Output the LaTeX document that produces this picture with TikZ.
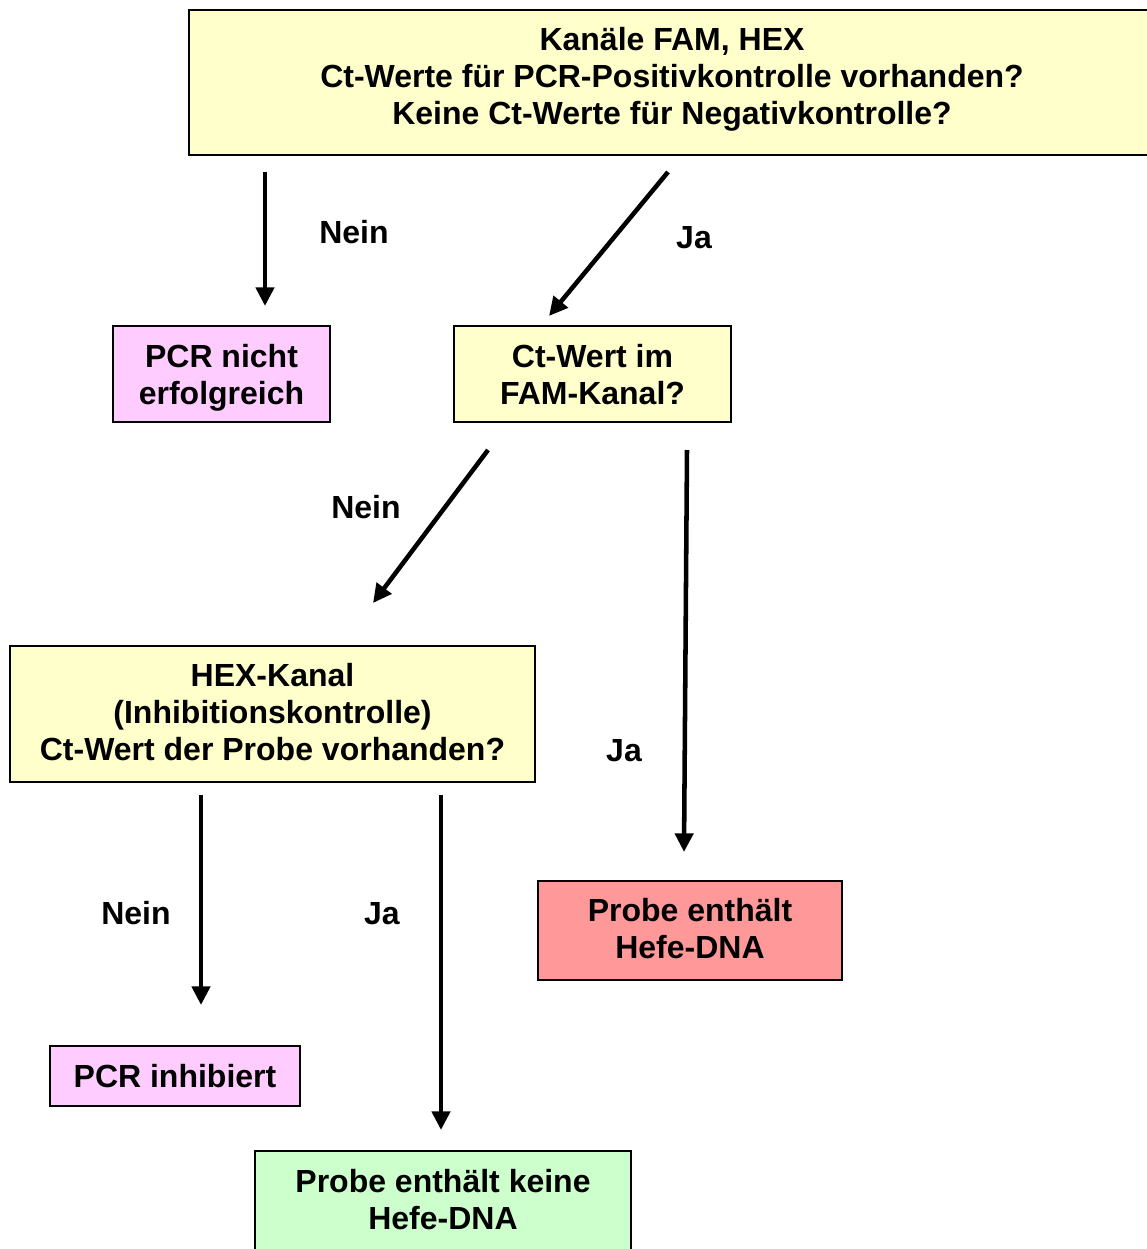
\documentclass[tikz,border=0pt]{standalone}
\usepackage{fontspec}
\setmainfont{Liberation Sans}
\usetikzlibrary{arrows.meta}
\definecolor{ylw}{HTML}{FFFFCC}
\definecolor{pnk}{HTML}{FFCCFF}
\definecolor{red1}{HTML}{FF9999}
\definecolor{grn}{HTML}{CCFFCC}
\tikzset{
  box/.style={draw=black, line width=1.4pt, inner sep=0pt, align=center,
    font=\fontsize{24pt}{27.75pt}\selectfont\bfseries},
  lbl/.style={inner sep=0pt, font=\fontsize{24pt}{27.75pt}\selectfont\bfseries},
  arr/.style={line width=3.4pt, -{Triangle[length=14pt,width=13.5pt]}}
}
\begin{document}
\begin{tikzpicture}[x=0.75pt,y=-0.75pt]
\useasboundingbox[fill=white] (0,0) rectangle (1146,1249);
\node[box, fill=ylw, minimum width=966*0.75pt, minimum height=145*0.75pt,
  label={[lbl, align=center, yshift=2.25pt]center:{Kanäle FAM, HEX\\Ct-Werte für PCR-Positivkontrolle vorhanden?\\Keine Ct-Werte für Negativkontrolle?}}] (top) at (672,82.5) {};
\node[box, fill=pnk, minimum width=217*0.75pt, minimum height=96*0.75pt,
  label={[lbl, align=center, yshift=-3pt]center:{PCR nicht\\erfolgreich}}] (fail) at (221.5,374) {};
\node[box, fill=ylw, minimum width=277*0.75pt, minimum height=96*0.75pt,
  label={[lbl, align=center, yshift=-0.75pt]center:{Ct-Wert im\\FAM-Kanal?}}] (fam) at (592.5,374) {};
\node[box, fill=ylw, minimum width=525*0.75pt, minimum height=136*0.75pt,
  label={[lbl, align=center, yshift=1.5pt]center:{HEX-Kanal\\(Inhibitionskontrolle)\\Ct-Wert der Probe vorhanden?}}] (hex) at (272.5,714) {};
\node[box, fill=pnk, minimum width=250*0.75pt, minimum height=60*0.75pt] (inhib) at (175,1076)
  {PCR inhibiert};
\node[box, fill=red1, minimum width=304*0.75pt, minimum height=99*0.75pt,
  label={[lbl, align=center, yshift=1.5pt]center:{Probe enthält\\Hefe-DNA}}] (pos) at (690,930.5) {};
\node[box, fill=grn, minimum width=376*0.75pt, minimum height=100*0.75pt,
  label={[lbl, align=center, yshift=0.75pt]center:{Probe enthält keine\\Hefe-DNA}}] (neg) at (443,1201) {};
% arrow end points (arrows float free of boxes)
\coordinate (a1s) at (265,172);  \coordinate (a1e) at (265,306);
\coordinate (a2s) at (668,172);  \coordinate (a2e) at (549,316);
\coordinate (a3s) at (488,450);  \coordinate (a3e) at (373,603);
\coordinate (a4s) at (687,450);  \coordinate (a4e) at (684,852);
\coordinate (a5s) at (201,795);  \coordinate (a5e) at (201,1005);
\coordinate (a6s) at (441,795);  \coordinate (a6e) at (441,1130);
\draw[arr] (a1s) -- (a1e);
\draw[arr] (a2s) -- (a2e);
\draw[arr] (a3s) -- (a3e);
\draw[arr] (a4s) -- (a4e);
\draw[arr] (a5s) -- (a5e);
\draw[arr] (a6s) -- (a6e);
\node[lbl] (l1) at (354,232) {Nein};
\node[lbl] (l2) at (694,238) {Ja};
\node[lbl] (l3) at (366,507) {Nein};
\node[lbl] (l4) at (624,751) {Ja};
\node[lbl] (l5) at (136,913) {Nein};
\node[lbl] (l6) at (382,914) {Ja};
\end{tikzpicture}
\end{document}
